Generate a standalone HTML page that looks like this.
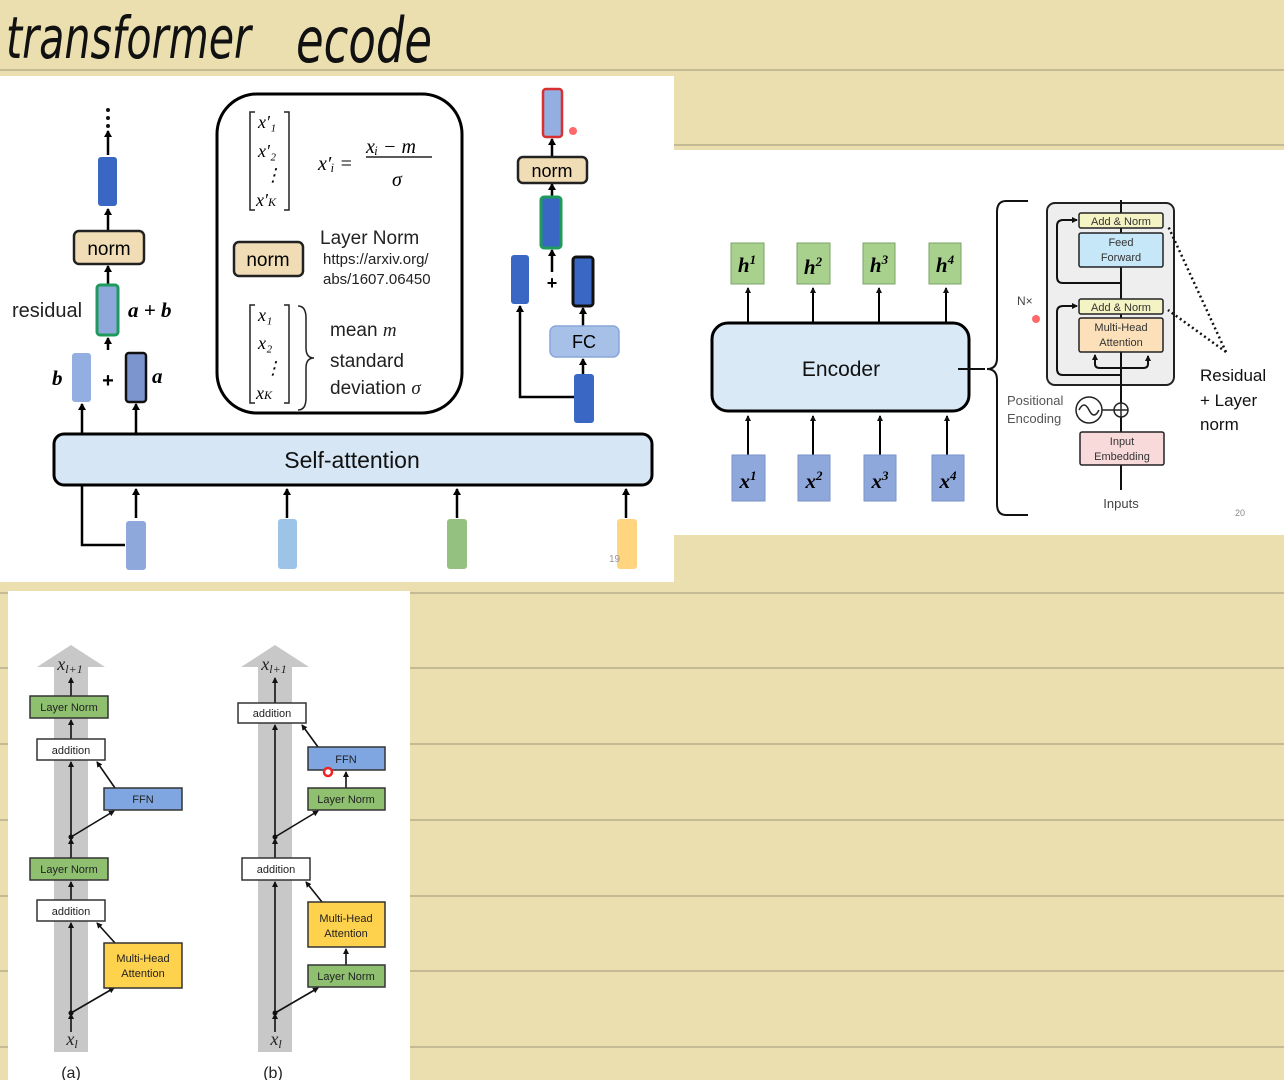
<!DOCTYPE html>
<html><head><meta charset="utf-8"><style>
html,body{margin:0;padding:0;background:#ebdfb0;}
svg{display:block;}
text{font-family:"Liberation Sans",sans-serif;}
text.s,.s text,.s tspan,tspan.s{font-family:"Liberation Serif",serif;font-style:italic;}
</style></head><body>
<svg width="1284" height="1080" viewBox="0 0 1284 1080" xmlns="http://www.w3.org/2000/svg">
<defs>
<marker id="ar" markerWidth="8" markerHeight="8" refX="6" refY="4" orient="auto" markerUnits="userSpaceOnUse"><path d="M0,0 L7,4 L0,8 z" fill="#000"/></marker>
<marker id="as" markerWidth="6" markerHeight="6" refX="5" refY="3" orient="auto" markerUnits="userSpaceOnUse"><path d="M0,0 L6,3 L0,6 z" fill="#111"/></marker>
</defs>
<rect width="1284" height="1080" fill="#ebdfb0"/>
<g stroke="#b8ad8a" stroke-width="1.5">
<line x1="0" y1="70" x2="1284" y2="70"/><line x1="0" y1="145" x2="1284" y2="145"/>
<line x1="0" y1="593" x2="1284" y2="593"/><line x1="0" y1="668" x2="1284" y2="668"/>
<line x1="0" y1="744" x2="1284" y2="744"/><line x1="0" y1="820" x2="1284" y2="820"/>
<line x1="0" y1="896" x2="1284" y2="896"/><line x1="0" y1="971" x2="1284" y2="971"/>
<line x1="0" y1="1047" x2="1284" y2="1047"/>
</g>
<text x="6" y="58" font-size="58" font-style="italic" fill="#111" style="font-family:'DejaVu Sans',sans-serif;font-weight:200" textLength="245" lengthAdjust="spacingAndGlyphs">transformer</text>
<text x="296" y="62" font-size="62" font-style="italic" fill="#111" style="font-family:'DejaVu Sans',sans-serif;font-weight:200" textLength="136" lengthAdjust="spacingAndGlyphs">ecode</text>

<!-- top-left panel -->
<rect x="0" y="76" width="674" height="506" fill="#fff"/>
<g fill="#111"><circle cx="108" cy="110" r="2"/><circle cx="108" cy="118" r="2"/><circle cx="108" cy="126" r="2"/></g>
<g stroke="#000" stroke-width="2.5" fill="none" marker-end="url(#ar)">
<line x1="108" y1="155" x2="108" y2="131"/><line x1="108" y1="230" x2="108" y2="209"/>
<line x1="108" y1="284" x2="108" y2="266"/><line x1="108" y1="350" x2="108" y2="338"/>
<line x1="136" y1="433" x2="136" y2="404"/>
<polyline points="125,545 82,545 82,404"/>
<line x1="136" y1="518" x2="136" y2="489"/><line x1="287" y1="518" x2="287" y2="489"/>
<line x1="457" y1="518" x2="457" y2="489"/><line x1="626" y1="518" x2="626" y2="489"/>
<line x1="268" y1="240" x2="268" y2="213"/><line x1="268" y1="302" x2="268" y2="278"/>
<line x1="552" y1="157" x2="552" y2="139"/><line x1="552" y1="197" x2="552" y2="184"/>
<line x1="552" y1="272" x2="552" y2="250"/><line x1="583" y1="326" x2="583" y2="308"/>
<line x1="583" y1="374" x2="583" y2="359"/>
<polyline points="574,397 520,397 520,306"/>
</g>
<rect x="98" y="157" width="19" height="49" rx="3" fill="#3a66c4"/>
<rect x="74" y="231" width="70" height="33" rx="5" fill="#f1ddb5" stroke="#222" stroke-width="2.5"/>
<text x="109" y="255" font-size="19" text-anchor="middle">norm</text>
<rect x="97" y="285" width="21" height="50" rx="3" fill="#8fa8dc" stroke="#1e9a5c" stroke-width="3"/>
<text x="12" y="317" font-size="20" fill="#222">residual</text>
<text x="128" y="317" font-size="21" class="s" font-weight="bold">a + b</text>
<rect x="72" y="353" width="19" height="49" rx="3" fill="#93aee0"/>
<text x="52" y="385" font-size="21" class="s" font-weight="bold">b</text>
<text x="108" y="387" font-size="20" font-weight="bold" text-anchor="middle">+</text>
<rect x="126" y="353" width="20" height="49" rx="3" fill="#7d95cf" stroke="#111" stroke-width="2.5"/>
<text x="152" y="383" font-size="21" class="s" font-weight="bold">a</text>
<rect x="54" y="434" width="598" height="51" rx="10" fill="#d6e6f5" stroke="#000" stroke-width="3"/>
<text x="352" y="468" font-size="23" text-anchor="middle" fill="#111">Self-attention</text>
<rect x="126" y="521" width="20" height="49" rx="3" fill="#8fa8dc"/>
<rect x="278" y="519" width="19" height="50" rx="3" fill="#9dc3e6"/>
<rect x="447" y="519" width="20" height="50" rx="3" fill="#94c080"/>
<rect x="617" y="519" width="20" height="50" rx="3" fill="#ffd580"/>
<text x="609" y="562" font-size="10" fill="#999">19</text>

<rect x="217" y="94" width="245" height="319" rx="40" fill="#fff" stroke="#000" stroke-width="3"/>
<g stroke="#222" stroke-width="1.5" fill="none">
<polyline points="255,112 250,112 250,210 255,210"/><polyline points="284,112 289,112 289,210 284,210"/>
<polyline points="255,305 250,305 250,403 255,403"/><polyline points="284,305 289,305 289,403 284,403"/>
<path d="M298,306 q8,0 8,12 v30 q0,10 8,10 q-8,0 -8,10 v30 q0,12 -8,12"/>
<line x1="366" y1="157" x2="432" y2="157"/>
</g>
<g class="s" font-size="18">
<text x="258" y="128">x′₁</text><text x="258" y="157">x′₂</text><text x="264" y="181">⋮</text><text x="256" y="206">x′<tspan font-size="12">K</tspan></text>
<text x="258" y="321">x₁</text><text x="258" y="349">x₂</text><text x="264" y="374">⋮</text><text x="256" y="399">x<tspan font-size="12">K</tspan></text>
<text x="318" y="170" font-size="20">x′ᵢ =</text>
<text x="366" y="153" font-size="20">xᵢ − m</text>
<text x="392" y="186" font-size="20">σ</text>
</g>
<rect x="234" y="242" width="69" height="34" rx="5" fill="#f1ddb5" stroke="#222" stroke-width="2.5"/>
<text x="268" y="266" font-size="19" text-anchor="middle">norm</text>
<text x="320" y="244" font-size="19" fill="#222">Layer Norm</text>
<text x="323" y="264" font-size="15" fill="#222">https://arxiv.org/</text>
<text x="323" y="284" font-size="15" fill="#222">abs/1607.06450</text>
<text x="330" y="336" font-size="19" fill="#222">mean <tspan class="s">m</tspan></text>
<text x="330" y="367" font-size="19" fill="#222">standard</text>
<text x="330" y="394" font-size="19" fill="#222">deviation <tspan class="s">σ</tspan></text>

<rect x="543" y="89" width="19" height="48" rx="3" fill="#93aee0" stroke="#d83030" stroke-width="2.5"/>
<circle cx="573" cy="131" r="4" fill="#f44" opacity="0.8"/>
<rect x="518" y="157" width="69" height="26" rx="5" fill="#f1ddb5" stroke="#222" stroke-width="2.5"/>
<text x="552" y="177" font-size="18" text-anchor="middle">norm</text>
<rect x="541" y="197" width="20" height="51" rx="3" fill="#3a66c4" stroke="#1e9a5c" stroke-width="3"/>
<text x="552" y="289" font-size="18" font-weight="bold" text-anchor="middle">+</text>
<rect x="511" y="255" width="18" height="49" rx="3" fill="#3a66c4"/>
<rect x="573" y="257" width="20" height="49" rx="3" fill="#3a66c4" stroke="#111" stroke-width="3"/>
<rect x="550" y="326" width="69" height="31" rx="6" fill="#a7c0e8" stroke="#8aa6d8" stroke-width="1.5"/>
<text x="584" y="348" font-size="18" text-anchor="middle">FC</text>
<rect x="574" y="374" width="20" height="49" rx="3" fill="#3a66c4"/>

<!-- right panel -->
<rect x="674" y="150" width="610" height="385" fill="#fff"/>
<g stroke="#000" stroke-width="2" fill="none" marker-end="url(#as)">
<line x1="748" y1="322" x2="748" y2="288"/><line x1="813" y1="322" x2="813" y2="288"/>
<line x1="879" y1="322" x2="879" y2="288"/><line x1="946" y1="322" x2="946" y2="288"/>
<line x1="748" y1="455" x2="748" y2="416"/><line x1="813" y1="455" x2="813" y2="416"/>
<line x1="880" y1="455" x2="880" y2="416"/><line x1="947" y1="455" x2="947" y2="416"/>
</g>
<g fill="#a9d18e" stroke="#7aa268" stroke-width="1">
<rect x="731" y="243" width="33" height="41"/><rect x="797" y="243" width="33" height="41"/>
<rect x="863" y="243" width="32" height="41"/><rect x="929" y="243" width="32" height="41"/>
</g>
<g class="s" font-weight="bold" font-size="21" text-anchor="middle">
<text x="747" y="272">h<tspan font-size="13" dy="-8">1</tspan></text>
<text x="813" y="274">h<tspan font-size="13" dy="-8">2</tspan></text>
<text x="879" y="272">h<tspan font-size="13" dy="-8">3</tspan></text>
<text x="945" y="272">h<tspan font-size="13" dy="-8">4</tspan></text>
</g>
<rect x="712" y="323" width="257" height="88" rx="16" fill="#dae9f6" stroke="#000" stroke-width="3"/>
<text x="841" y="376" font-size="21" text-anchor="middle" fill="#111">Encoder</text>
<g fill="#8fa8dc" stroke="#7b93c8" stroke-width="1">
<rect x="732" y="455" width="33" height="46"/><rect x="798" y="455" width="32" height="46"/>
<rect x="864" y="455" width="32" height="46"/><rect x="932" y="455" width="32" height="46"/>
</g>
<g class="s" font-weight="bold" font-size="21" text-anchor="middle">
<text x="748" y="488">x<tspan font-size="13" dy="-8">1</tspan></text>
<text x="814" y="488">x<tspan font-size="13" dy="-8">2</tspan></text>
<text x="880" y="488">x<tspan font-size="13" dy="-8">3</tspan></text>
<text x="948" y="488">x<tspan font-size="13" dy="-8">4</tspan></text>
</g>
<path d="M958,369 H985 M1028,201 H1006 Q997,201 997,212 V358 Q997,369 987,369 Q997,369 997,380 V504 Q997,515 1006,515 H1028" stroke="#111" stroke-width="2" fill="none"/>
<rect x="1047" y="203" width="127" height="182" rx="8" fill="#eeeeee" stroke="#222" stroke-width="2"/>
<g stroke="#111" stroke-width="2" fill="none">
<line x1="1121" y1="490" x2="1121" y2="200"/>
<path d="M1121,375 H1063 Q1057,375 1057,369 V312 Q1057,306 1063,306 H1077" marker-end="url(#as)"/>
<path d="M1121,283 H1063 Q1057,283 1057,277 V226 Q1057,220 1063,220 H1077" marker-end="url(#as)"/>
<path d="M1095,364 Q1095,368 1100,368 H1143 Q1148,368 1148,364 V356" marker-end="url(#as)"/>
<line x1="1095" y1="365" x2="1095" y2="355" marker-end="url(#as)"/>
</g>
<rect x="1079" y="213" width="84" height="15" rx="2" fill="#f3f3c3" stroke="#222" stroke-width="1.5"/>
<text x="1121" y="225" font-size="11" text-anchor="middle" fill="#333">Add &amp; Norm</text>
<rect x="1079" y="233" width="84" height="34" rx="2" fill="#c6e7f8" stroke="#222" stroke-width="1.5"/>
<text x="1121" y="246" font-size="11" text-anchor="middle" fill="#333">Feed</text>
<text x="1121" y="261" font-size="11" text-anchor="middle" fill="#333">Forward</text>
<rect x="1079" y="299" width="84" height="15" rx="2" fill="#f3f3c3" stroke="#222" stroke-width="1.5"/>
<text x="1121" y="311" font-size="11" text-anchor="middle" fill="#333">Add &amp; Norm</text>
<rect x="1079" y="318" width="84" height="34" rx="2" fill="#fbe0ba" stroke="#222" stroke-width="1.5"/>
<text x="1121" y="331" font-size="11" text-anchor="middle" fill="#333">Multi-Head</text>
<text x="1121" y="346" font-size="11" text-anchor="middle" fill="#333">Attention</text>
<text x="1017" y="305" font-size="12" fill="#444">N×</text>
<circle cx="1036" cy="319" r="4" fill="#f44" opacity="0.8"/>
<text x="1007" y="405" font-size="13" fill="#555">Positional</text>
<text x="1007" y="423" font-size="13" fill="#555">Encoding</text>
<circle cx="1089" cy="410" r="13" fill="#fff" stroke="#222" stroke-width="1.5"/>
<path d="M1079,410 q5,-10 10,0 q5,10 10,0" stroke="#222" stroke-width="1.5" fill="none"/>
<line x1="1102" y1="410" x2="1114" y2="410" stroke="#222" stroke-width="1.5"/>
<circle cx="1121" cy="410" r="7" fill="#fff" stroke="#222" stroke-width="1.5"/>
<path d="M1114,410 H1128 M1121,403 V417" stroke="#222" stroke-width="1.5"/>
<rect x="1080" y="432" width="84" height="33" rx="2" fill="#f8dada" stroke="#222" stroke-width="1.5"/>
<text x="1122" y="445" font-size="11" text-anchor="middle" fill="#333">Input</text>
<text x="1122" y="460" font-size="11" text-anchor="middle" fill="#333">Embedding</text>
<text x="1121" y="508" font-size="13" text-anchor="middle" fill="#444">Inputs</text>
<text x="1235" y="516" font-size="9" fill="#888">20</text>
<g stroke="#111" stroke-width="2.5" stroke-dasharray="2,3" fill="none">
<line x1="1226" y1="352" x2="1168" y2="226"/><line x1="1226" y1="352" x2="1168" y2="310"/>
</g>
<text x="1200" y="381" font-size="17" fill="#111">Residual</text>
<text x="1200" y="406" font-size="17" fill="#111">+ Layer</text>
<text x="1200" y="430" font-size="17" fill="#111">norm</text>

<!-- bottom panel -->
<rect x="8" y="591" width="402" height="489" fill="#fff"/>
<g fill="#c8c8c8">
<rect x="54" y="667" width="34" height="385"/><polygon points="37,667 71,645 105,667"/>
<rect x="258" y="667" width="34" height="385"/><polygon points="241,667 275,645 309,667"/>
</g>
<g stroke="#111" stroke-width="1.6" fill="none" marker-end="url(#as)">
<line x1="71" y1="1032" x2="71" y2="1014"/><line x1="71" y1="1012" x2="71" y2="923"/>
<line x1="71" y1="900" x2="71" y2="882"/><line x1="71" y1="858" x2="71" y2="839"/>
<line x1="71" y1="836" x2="71" y2="762"/><line x1="71" y1="739" x2="71" y2="720"/>
<line x1="71" y1="696" x2="71" y2="678"/>
<line x1="71" y1="1013" x2="114" y2="988"/><line x1="115" y1="943" x2="97" y2="923"/>
<line x1="71" y1="837" x2="114" y2="811"/><line x1="115" y1="788" x2="97" y2="762"/>
<line x1="275" y1="1032" x2="275" y2="1014"/><line x1="275" y1="1012" x2="275" y2="882"/>
<line x1="275" y1="858" x2="275" y2="839"/><line x1="275" y1="836" x2="275" y2="725"/>
<line x1="275" y1="703" x2="275" y2="678"/>
<line x1="275" y1="1013" x2="318" y2="988"/><line x1="346" y1="965" x2="346" y2="949"/>
<line x1="322" y1="902" x2="306" y2="882"/>
<line x1="275" y1="837" x2="318" y2="811"/><line x1="346" y1="788" x2="346" y2="772"/>
<line x1="318" y1="747" x2="302" y2="725"/>
</g>
<g fill="#111"><circle cx="71" cy="1013" r="2.5"/><circle cx="71" cy="837" r="2.5"/><circle cx="275" cy="1013" r="2.5"/><circle cx="275" cy="837" r="2.5"/></g>
<g stroke="#333" stroke-width="1.5" font-size="11">
<rect x="30" y="696" width="78" height="22" fill="#8fc070"/>
<rect x="37" y="739" width="68" height="21" fill="#fff"/>
<rect x="104" y="788" width="78" height="22" fill="#7fa6e0"/>
<rect x="30" y="858" width="78" height="22" fill="#8fc070"/>
<rect x="37" y="900" width="68" height="21" fill="#fff"/>
<rect x="104" y="943" width="78" height="45" fill="#ffd24d"/>
<rect x="238" y="703" width="68" height="20" fill="#fff"/>
<rect x="308" y="747" width="77" height="23" fill="#7fa6e0"/>
<rect x="308" y="788" width="77" height="22" fill="#8fc070"/>
<rect x="242" y="858" width="68" height="22" fill="#fff"/>
<rect x="308" y="902" width="77" height="45" fill="#ffd24d"/>
<rect x="308" y="965" width="77" height="22" fill="#8fc070"/>
</g>
<g font-size="11" text-anchor="middle" fill="#222">
<text x="69" y="711">Layer Norm</text><text x="71" y="754">addition</text><text x="143" y="803">FFN</text>
<text x="69" y="873">Layer Norm</text><text x="71" y="915">addition</text>
<text x="143" y="962">Multi-Head</text><text x="143" y="977">Attention</text>
<text x="272" y="717">addition</text><text x="346" y="763">FFN</text><text x="346" y="803">Layer Norm</text>
<text x="276" y="873">addition</text><text x="346" y="922">Multi-Head</text><text x="346" y="937">Attention</text>
<text x="346" y="980">Layer Norm</text>
</g>
<circle cx="328" cy="772" r="4" fill="#fff" stroke="#e22" stroke-width="2.5"/>
<g class="s" font-size="18" text-anchor="middle" fill="#222">
<text x="70" y="670">x<tspan font-size="12" dy="3">l+1</tspan></text>
<text x="274" y="670">x<tspan font-size="12" dy="3">l+1</tspan></text>
<text x="72" y="1045">x<tspan font-size="12" dy="3">l</tspan></text>
<text x="276" y="1045">x<tspan font-size="12" dy="3">l</tspan></text>
</g>
<text x="71" y="1078" font-size="16" text-anchor="middle" fill="#222">(a)</text>
<text x="273" y="1078" font-size="16" text-anchor="middle" fill="#222">(b)</text>
</svg>
</body></html>
